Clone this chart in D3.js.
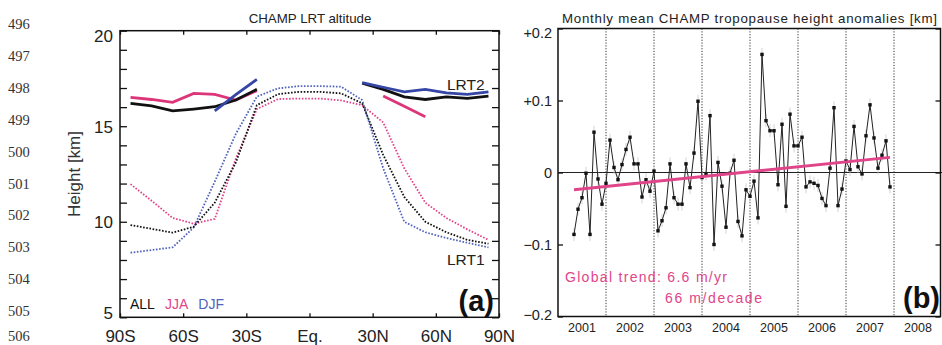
<!DOCTYPE html>
<html>
<head>
<meta charset="utf-8">
<script src="https://cdn.jsdelivr.net/npm/d3@7"></script>
<style>
body { margin: 0; background: #fff; }
svg { display: block; }
text { font-family: "Liberation Sans", Arial, sans-serif; }
</style>
</head>
<body>
<svg id="chart" width="942" height="345"></svg>
<script>
// panel (a): zonal mean LRT altitudes, 10 deg bins
var lats = [-85, -75, -65, -55, -45, -35, -25, -15, -5, 5, 15, 25, 35, 45, 55, 65, 75, 85];
var lrt1All = [9.83, 9.63, 9.43, 9.74, 11.0, 13.1, 16.1, 16.68, 16.8, 16.8, 16.72, 16.2, 13.5, 11.3, 10.0, 9.45, 9.05, 8.85];
var lrt1Jja = [11.97, 11.1, 10.2, 9.9, 10.15, 13.3, 15.9, 16.42, 16.45, 16.45, 16.35, 16.1, 15.2, 12.8, 11.0, 10.2, 9.6, 9.05];
var lrt1Djf = [8.38, 8.52, 8.66, 9.7, 12.1, 14.6, 16.55, 16.98, 17.1, 17.1, 17.07, 16.37, 12.8, 10.0, 9.45, 9.15, 8.9, 8.66];
var lrt2All = [16.2, 16.06, 15.8, 15.9, 16.02, 16.37, 16.93, null, null, null, null, 17.25, 16.93, 16.54, 16.4, 16.54, 16.46, 16.58];
var lrt2Jja = [16.51, 16.4, 16.25, 16.72, 16.67, 16.37, 16.86, null, null, null, null, null, 16.58, 16.05, 15.5, null, null, null];
var lrt2Djf = [null, null, null, null, 15.8, 16.65, 17.45, null, null, null, null, 17.28, 17.04, 16.8, 16.93, 16.75, 16.67, 16.8];
var latTicks = [-90, -60, -30, 0, 30, 60, 90];
var latLabels = ['90S', '60S', '30S', 'Eq.', '30N', '60N', '90N'];
var heightLabels = [5, 10, 15, 20];

// panel (b): monthly anomalies, May 2001 .. Dec 2007
var firstMonth = 2001 + 4 / 12;
var anomalies = [
  -0.086, -0.051, -0.035, -0.001, -0.086, 0.056, -0.009, -0.044,
  -0.015, 0.045, 0.007, -0.010, 0.011, 0.032, 0.049, 0.012, 0.012, -0.034, -0.010, -0.026,
  0.002, -0.081, -0.067, -0.049, 0.012, -0.035, -0.044, -0.044, 0.012, -0.021, 0.027, 0.099,
  -0.007, -0.002, 0.079, -0.100, 0.014, -0.019, -0.076, -0.001, 0.017, -0.068, -0.088, -0.024,
  -0.033, -0.012, -0.063, 0.164, 0.072, 0.058, 0.058, -0.017, 0.067, -0.047, 0.081, 0.037,
  0.037, 0.049, -0.020, -0.013, -0.015, -0.018, -0.036, -0.046, 0.006, 0.090, -0.046, -0.023,
  0.016, 0.004, 0.064, 0.008, -0.002, 0.051, 0.094, 0.048, 0.006, 0.024, 0.044, -0.020
];
var trendYears = [2001 + 4 / 12, 2001 + 83 / 12];
var trendValues = [-0.024, 0.021];
var years = [2001, 2002, 2003, 2004, 2005, 2006, 2007, 2008];
var anomTicks = [-0.2, -0.1, 0, 0.1, 0.2];
var anomLabels = ['\u22120.2', '\u22120.1', '0', '+0.1', '+0.2'];
var lineNumbers = [496, 497, 498, 499, 500, 501, 502, 503, 504, 505, 506];

var black = '#111', pink = '#e0458a', pinkSolid = '#dd3579', blue = '#5163bd', blueSolid = '#3546a6';

var svg = d3.select('#chart');

// manuscript line numbers
svg.append('g').selectAll('text')
  .data(lineNumbers)
  .enter()
  .append('text')
    .attr('x', 8)
    .attr('y', function(d, i) { return Math.min(25.5 + 31.94 * i, 337.5); })
    .attr('dominant-baseline', 'middle')
    .style('font-family', '"Liberation Serif", serif')
    .style('font-size', '14.5px')
    .attr('fill', '#333')
    .text(function(d) { return d; });

// ---------- panel (a)
var xa = d3.scaleLinear().domain([-90, 90]).range([120, 499]);
var ya = d3.scaleLinear().domain([5, 20]).range([317.3, 30.7]);
var ga = svg.append('g');

function latLine(vals, color, width, dash) {
    var line = d3.line()
        .defined(function(d) { return d[1] != null; })
        .x(function(d) { return xa(d[0]); })
        .y(function(d) { return ya(d[1]); });
    ga.append('path')
        .datum(lats.map(function(l, i) { return [l, vals[i]]; }))
        .attr('d', line)
        .attr('fill', 'none')
        .attr('stroke', color)
        .attr('stroke-width', width)
        .attr('stroke-dasharray', dash || null);
}

latLine(lrt1Jja, pink, 1.8, '1.6,1.6');
latLine(lrt1Djf, blue, 1.8, '1.6,1.6');
latLine(lrt1All, black, 1.8, '1.6,1.6');
latLine(lrt2Jja, pinkSolid, 2.8);
latLine(lrt2All, black, 2.8);
latLine(lrt2Djf, blueSolid, 2.8);

ga.append('rect')
    .attr('x', 120).attr('y', 30.7)
    .attr('width', 379).attr('height', 286.6)
    .attr('fill', 'none').attr('stroke', black).attr('stroke-width', 1.5);

function styleAxis(g) {
    g.select('.domain').remove();
    g.selectAll('line').attr('stroke', black).attr('stroke-width', 1.3);
    g.selectAll('text').attr('fill', '#222').style('font-family', '"Liberation Sans", sans-serif');
}

ga.append('g')
    .attr('transform', 'translate(0,317.3)')
    .call(d3.axisBottom(xa).tickValues(latTicks).tickSize(-4).tickPadding(13)
        .tickFormat(function(d, i) { return latLabels[i]; }))
    .call(styleAxis)
    .selectAll('text').style('font-size', '17px');
ga.append('g')
    .attr('transform', 'translate(0,30.7)')
    .call(d3.axisTop(xa).tickValues(latTicks).tickSize(-4).tickFormat(''))
    .call(styleAxis);
ga.append('g')
    .attr('transform', 'translate(120,0)')
    .call(d3.axisLeft(ya).tickValues(d3.range(5, 21)).tickSize(-7).tickPadding(7)
        .tickFormat(function(d) { return heightLabels.indexOf(d) >= 0 ? d : ''; }))
    .call(styleAxis)
    .selectAll('text')
        .style('font-size', '17px')
        .attr('dy', function(d) { return d == 20 ? '0.62em' : d == 5 ? '0.05em' : '0.36em'; });
ga.append('g')
    .attr('transform', 'translate(499,0)')
    .call(d3.axisRight(ya).tickValues(d3.range(5, 21)).tickSize(-7).tickFormat(''))
    .call(styleAxis);

ga.append('text').attr('x', 310).attr('y', 23).attr('text-anchor', 'middle')
    .style('font-size', '13.3px').attr('fill', '#222').text('CHAMP LRT altitude');
ga.append('text').attr('transform', 'translate(80,174) rotate(-90)').attr('text-anchor', 'middle')
    .style('font-size', '17px').attr('fill', '#333').text('Height [km]');
ga.append('text').attr('x', 447).attr('y', 90).style('font-size', '15.5px').attr('fill', '#222').text('LRT2');
ga.append('text').attr('x', 447).attr('y', 265).style('font-size', '15.5px').attr('fill', '#222').text('LRT1');
var legend = ga.append('text').attr('x', 130).attr('y', 309).style('font-size', '14px');
legend.append('tspan').attr('fill', black).text('ALL');
legend.append('tspan').attr('dx', 10).attr('fill', pink).text('JJA');
legend.append('tspan').attr('dx', 10).attr('fill', blue).text('DJF');
ga.append('text').attr('x', 494).attr('y', 311).attr('text-anchor', 'end')
    .style('font-size', '29px').style('font-weight', 'bold').attr('fill', '#111').text('(a)');

// ---------- panel (b)
var xb = d3.scaleLinear().domain([2001, 2009]).range([558, 942]);
var yb = d3.scaleLinear().domain([-0.2, 0.2]).range([316.5, 28.5]);
var gb = svg.append('g');

gb.selectAll('line.year')
    .data(years.slice(1))
    .enter()
    .append('line')
        .attr('class', 'year')
        .attr('x1', function(d) { return xb(d); })
        .attr('x2', function(d) { return xb(d); })
        .attr('y1', yb(0.2)).attr('y2', yb(-0.2))
        .attr('stroke', '#333').attr('stroke-width', 1)
        .attr('stroke-dasharray', '1.2,1.6');

gb.append('line')
    .attr('x1', xb(2001)).attr('x2', xb(2009))
    .attr('y1', yb(0)).attr('y2', yb(0))
    .attr('stroke', '#222').attr('stroke-width', 1);

var months = anomalies.map(function(v, i) { return { t: firstMonth + i / 12, v: v }; });

gb.selectAll('line.err')
    .data(months)
    .enter()
    .append('line')
        .attr('class', 'err')
        .attr('x1', function(d) { return xb(d.t); })
        .attr('x2', function(d) { return xb(d.t); })
        .attr('y1', function(d) { return yb(d.v + 0.009); })
        .attr('y2', function(d) { return yb(d.v - 0.009); })
        .attr('stroke', '#c8c8c8').attr('stroke-width', 0.8);

gb.append('path')
    .datum(months)
    .attr('d', d3.line().x(function(d) { return xb(d.t); }).y(function(d) { return yb(d.v); }))
    .attr('fill', 'none').attr('stroke', '#222').attr('stroke-width', 1);

gb.selectAll('rect.pt')
    .data(months)
    .enter()
    .append('rect')
        .attr('class', 'pt')
        .attr('x', function(d) { return xb(d.t) - 1.7; })
        .attr('y', function(d) { return yb(d.v) - 1.7; })
        .attr('width', 3.4).attr('height', 3.4)
        .attr('fill', '#111');

gb.append('path')
    .datum(trendYears.map(function(t, i) { return [t, trendValues[i]]; }))
    .attr('d', d3.line().x(function(d) { return xb(d[0]); }).y(function(d) { return yb(d[1]); }))
    .attr('stroke', pink).attr('stroke-width', 3).attr('fill', 'none');

gb.append('rect')
    .attr('x', 558).attr('y', 28.5)
    .attr('width', 382.5).attr('height', 288)
    .attr('fill', 'none').attr('stroke', black).attr('stroke-width', 1.5);

gb.append('g')
    .attr('transform', 'translate(558,0)')
    .call(d3.axisLeft(yb).tickValues(anomTicks).tickSize(-5).tickPadding(6)
        .tickFormat(function(d, i) { return anomLabels[i]; }))
    .call(styleAxis)
    .selectAll('text')
        .style('font-size', '14.5px')
        .attr('dy', function(d) { return d == 0.2 ? '0.62em' : d == -0.2 ? '0.2em' : '0.36em'; });
gb.append('g')
    .attr('transform', 'translate(940.5,0)')
    .call(d3.axisRight(yb).tickValues(anomTicks).tickSize(-5).tickFormat(''))
    .call(styleAxis);

gb.selectAll('text.yr')
    .data(years)
    .enter()
    .append('text')
        .attr('class', 'yr')
        .attr('x', function(d) { return xb(d + 0.5); })
        .attr('y', 332)
        .attr('text-anchor', 'middle')
        .style('font-size', '12.5px')
        .attr('fill', '#222')
        .text(function(d) { return d; });

gb.append('text').attr('x', 562).attr('y', 23)
    .attr('textLength', 375).attr('lengthAdjust', 'spacing')
    .style('font-size', '13.3px').attr('fill', '#222')
    .text('Monthly mean CHAMP tropopause height anomalies [km]');
gb.append('text').attr('x', 565).attr('y', 282)
    .attr('textLength', 162).attr('lengthAdjust', 'spacing')
    .style('font-size', '14px').attr('fill', pink).text('Global trend: 6.6 m/yr');
gb.append('text').attr('x', 665).attr('y', 303)
    .attr('textLength', 97).attr('lengthAdjust', 'spacing')
    .style('font-size', '14px').attr('fill', pink).text('66 m/decade');
gb.append('text').attr('x', 940).attr('y', 308).attr('text-anchor', 'end')
    .style('font-size', '29px').style('font-weight', 'bold').attr('fill', '#111').text('(b)');
</script>
</body>
</html>
